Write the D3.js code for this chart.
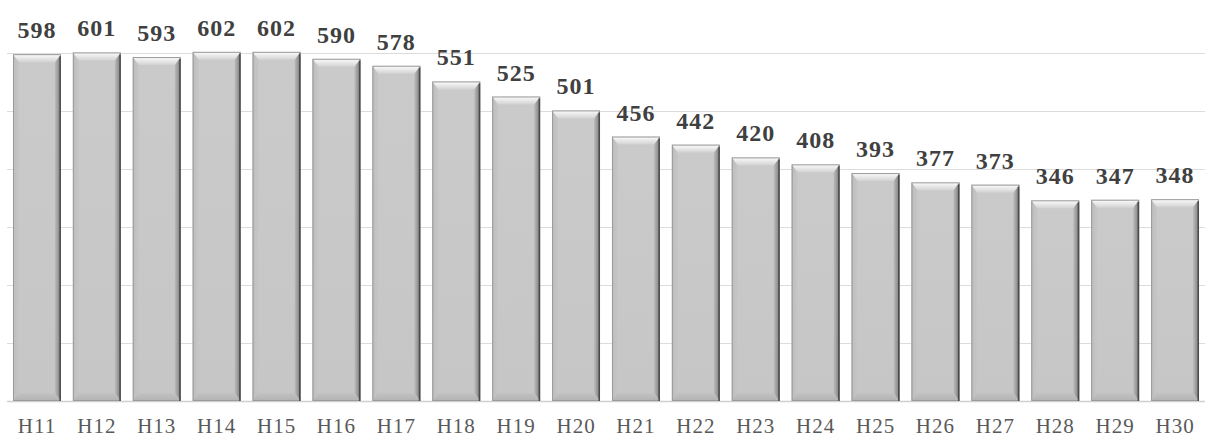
<!DOCTYPE html>
<html>
<head>
<meta charset="utf-8">
<script src="https://cdn.jsdelivr.net/npm/d3@7"></script>
<style>
  body { margin: 0; background: #fff; }
  svg { display: block; }
</style>
</head>
<body>
<svg id="chart" width="1205" height="439"></svg>
<script>
// data
var years = ['H11', 'H12', 'H13', 'H14', 'H15', 'H16', 'H17', 'H18', 'H19', 'H20',
  'H21', 'H22', 'H23', 'H24', 'H25', 'H26', 'H27', 'H28', 'H29', 'H30']
var values = [598, 601, 593, 602, 602, 590, 578, 551, 525, 501,
  456, 442, 420, 408, 393, 377, 373, 346, 347, 348]
var gridTicks = [0, 100, 200, 300, 400, 500, 600]

var svg = d3.select('#chart')
var plotLeft = 7, plotRight = 1205, plotTop = 53, plotBottom = 401

var x = d3.scaleBand().domain(years).range([plotLeft, plotRight]).paddingInner(0.2).paddingOuter(0.1)
var y = d3.scaleLinear().domain([0, 600]).range([plotBottom, plotTop])

var defs = svg.append('defs')
function grad(id, x2, y2, stops) {
  var g = defs.append('linearGradient').attr('id', id)
    .attr('x1', 0).attr('y1', 0).attr('x2', x2).attr('y2', y2)
  stops.forEach(s => g.append('stop').attr('offset', s[0]).attr('stop-color', s[1]))
}
grad('face', 0, 1, [[0, '#cacaca'], [1, '#c6c6c6']])
grad('topBev', 0, 1, [[0, '#fdfdfd'], [1, '#d2d2d2']])
grad('botBev', 0, 1, [[0, '#c2c2c2'], [1, '#b2b2b2']])
grad('leftBev', 1, 0, [[0, '#bdbdbd'], [1, '#c6c6c6']])
grad('rightBev', 1, 0, [[0, '#bdbdbd'], [1, '#7a7a7a']])

// gridlines
svg.append('g')
  .selectAll('line')
  .data(gridTicks)
  .enter()
  .append('line')
  .attr('x1', plotLeft).attr('x2', plotRight)
  .attr('y1', d => Math.round(y(d)) + 0.5)
  .attr('y2', d => Math.round(y(d)) + 0.5)
  .attr('stroke', d => d === 0 ? '#d0d0d0' : '#dcdcdc')
  .attr('stroke-width', d => d === 0 ? 1.5 : 1)

// bars
var bev = 8, side = 6
var bottom = plotBottom
var bars = svg.append('g')
  .selectAll('g')
  .data(values)
  .enter()
  .append('g')
  .attr('transform', (d, i) => 'translate(' + x(years[i]) + ',0)')

var bw = x.bandwidth()

bars.append('rect')
  .attr('x', 0).attr('width', bw)
  .attr('y', d => y(d)).attr('height', d => bottom - y(d))
  .attr('fill', 'url(#face)')

// left side strip
bars.append('path')
  .attr('d', d => {
    var t = y(d)
    return 'M0,' + t + 'L' + side + ',' + (t + bev) + 'L' + side + ',' + (bottom - bev) + 'L0,' + bottom + 'Z'
  })
  .attr('fill', 'url(#leftBev)')

// right side strip
bars.append('path')
  .attr('d', d => {
    var t = y(d)
    return 'M' + bw + ',' + t + 'L' + (bw - side) + ',' + (t + bev) + 'L' + (bw - side) + ',' + (bottom - bev) + 'L' + bw + ',' + bottom + 'Z'
  })
  .attr('fill', 'url(#rightBev)')

// bottom bevel
bars.append('path')
  .attr('d', 'M0,' + bottom + 'L' + side + ',' + (bottom - bev) + 'L' + (bw - side) + ',' + (bottom - bev) + 'L' + bw + ',' + bottom + 'Z')
  .attr('fill', 'url(#botBev)')

// top bevel
bars.append('path')
  .attr('d', d => {
    var t = y(d)
    return 'M0,' + t + 'L' + bw + ',' + t + 'L' + (bw - side) + ',' + (t + bev) + 'L' + side + ',' + (t + bev) + 'Z'
  })
  .attr('fill', 'url(#topBev)')

// edge outline
bars.append('rect')
  .attr('x', 0.5).attr('width', bw - 1)
  .attr('y', d => y(d) + 0.5).attr('height', d => bottom - y(d) - 1)
  .attr('fill', 'none')
  .attr('stroke', '#9a9a9a')
  .attr('stroke-width', 1)
bars.append('line')
  .attr('x1', bw - 0.75).attr('x2', bw - 0.75)
  .attr('y1', d => y(d) + 2).attr('y2', bottom)
  .attr('stroke', '#4a4a4a')
  .attr('stroke-width', 1.5)

// value labels
bars.append('text')
  .attr('x', bw / 2)
  .attr('y', d => y(d) - 16)
  .attr('text-anchor', 'middle')
  .attr('font-family', '"Liberation Serif", serif')
  .attr('font-weight', 'bold')
  .attr('font-size', 24)
  .attr('letter-spacing', 1)
  .attr('fill', '#404040')
  .text(d => d)

// x axis labels
var xAxis = d3.axisBottom(x).tickSize(0).tickPadding(0)
svg.append('g')
  .attr('transform', 'translate(0,' + 433 + ')')
  .call(xAxis)
  .call(g => g.select('.domain').remove())
  .selectAll('text')
  .attr('dy', 0)
  .attr('font-family', '"Liberation Serif", serif')
  .attr('font-size', 21)
  .attr('letter-spacing', 1)
  .attr('fill', '#595959')
</script>
</body>
</html>
